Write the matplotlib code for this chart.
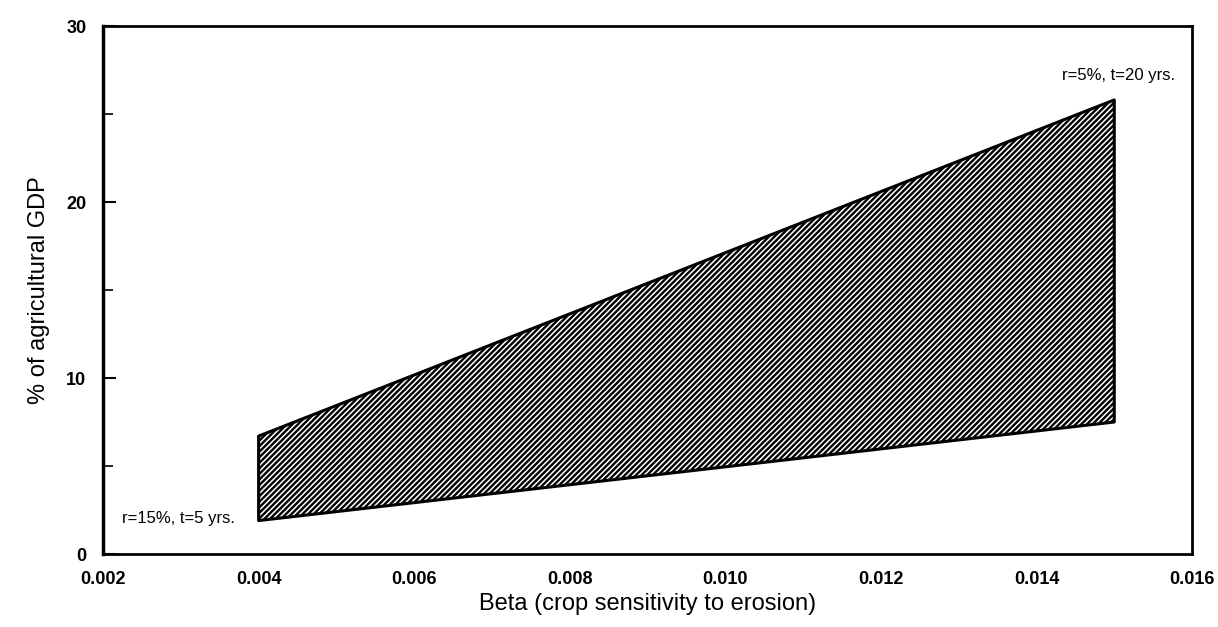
import matplotlib.pyplot as plt
from matplotlib.ticker import MultipleLocator

# ------------------------------------------------------------
# data
# ------------------------------------------------------------
beta = [0.004, 0.015]
upper = [6.7, 25.8]   # r=5%, t=20 yrs.
lower = [1.9, 7.5]    # r=15%, t=5 yrs.

x_ticks = [0.002, 0.004, 0.006, 0.008, 0.010, 0.012, 0.014, 0.016]
x_labels = ["0.002", "0.004", "0.006", "0.008", "0.010", "0.012", "0.014", "0.016"]
y_ticks = [0, 10, 20, 30]

plt.rcParams['font.family'] = ['Liberation Sans', 'DejaVu Sans']
plt.rcParams['hatch.linewidth'] = 1.7
plt.rcParams['hatch.color'] = 'black'

fig = plt.figure(figsize=(12.18, 6.27), dpi=100)
ax = fig.add_axes([0.0846, 0.1164, 0.8941, 0.8421])

# shaded band between the two scenarios
ax.fill_between(beta, lower, upper, facecolor='white', edgecolor='black',
                hatch='//////', linewidth=2.2)

ax.set_xlim(0.002, 0.016)
ax.set_ylim(0, 30)

ax.set_xticks(x_ticks)
ax.set_xticklabels(x_labels, fontsize=13, fontweight='bold')
ax.set_yticks(y_ticks)
ax.set_yticklabels([str(v) for v in y_ticks], fontsize=13, fontweight='bold')
ax.yaxis.set_minor_locator(MultipleLocator(5))

ax.tick_params(axis='x', length=0, pad=12)
ax.tick_params(axis='y', which='major', direction='in', length=9, width=1.5, pad=12)
ax.tick_params(axis='y', which='minor', direction='in', length=7, width=1.2)

for side, lw in [('left', 2.5), ('bottom', 2.0), ('top', 2.0), ('right', 2.0)]:
    ax.spines[side].set_linewidth(lw)

ax.set_xlabel("Beta (crop sensitivity to erosion)", fontsize=17, labelpad=4)
ax.set_ylabel("% of agricultural GDP", fontsize=17, labelpad=12)

ax.text(0.00224, 2.0, "r=15%, t=5 yrs.", fontsize=12, va='center', ha='left')
ax.text(0.01578, 27.2, "r=5%, t=20 yrs.", fontsize=12, va='center', ha='right')

fig.savefig("out.png", dpi=100)
